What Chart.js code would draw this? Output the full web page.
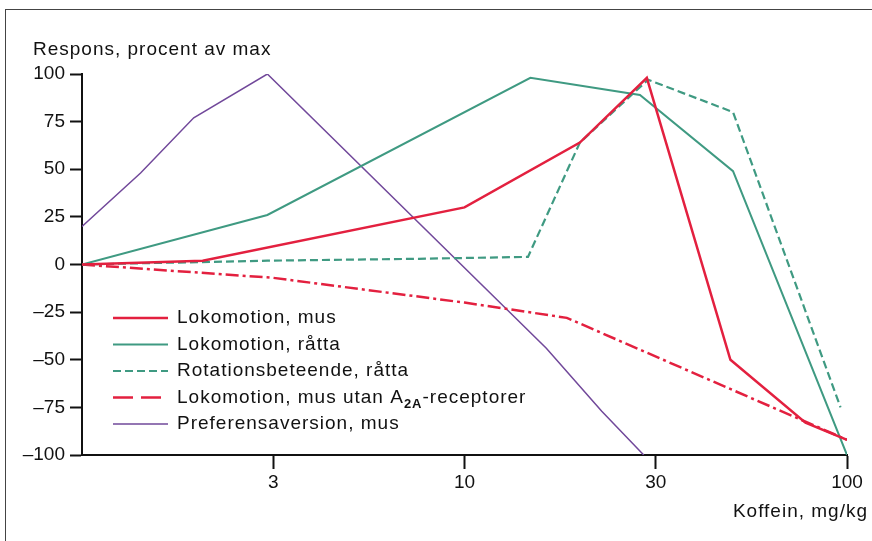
<!DOCTYPE html>
<html>
<head>
<meta charset="utf-8">
<script src="https://cdn.jsdelivr.net/npm/chart.js@4.4.1/dist/chart.umd.min.js"></script>
<style>
html,body{margin:0;padding:0;background:#fff;overflow:hidden}
#wrap{position:relative;width:872px;height:541px}
#frame{position:absolute;left:5px;top:9px;width:900px;height:600px;border:1.5px solid #444;pointer-events:none}
</style>
</head>
<body>
<div id="wrap"><canvas id="c" width="872" height="541"></canvas><div id="frame"></div></div>
<script>
// ---- data (dose in mg/kg, response in % of max) ----
const xTickDoses = [1, 3, 10, 30, 100];          // axis breakpoints (evenly spaced on the axis)
const xTickLabels = ['', '3', '10', '30', '100'];
const yTicks = [-100, -75, -50, -25, 0, 25, 50, 75, 100];

const lokMusDose  = [1, 2, 10, 19.4, 28.5, 48, 77, 100];
const lokMusResp  = [0, 2, 30, 64, 98, -50, -83, -92];

const lokRattaDose = [1, 2.9, 14.6, 27.4, 48.8, 100];
const lokRattaResp = [0, 26, 98, 89, 49, -100];

const rotDose = [1, 2.9, 7.5, 14.4, 19.4, 28.7, 48.8, 96];
const rotResp = [0, 2, 3, 4, 64, 97, 80, -75];

const lokA2ADose = [1, 3, 10, 18, 100];
const lokA2AResp = [0, -7, -20, -28, -92];

const prefDose = [1, 1.4, 1.9, 2.9, 16, 22, 28];
const prefResp = [20, 48, 77, 100, -44, -77, -100];

const seriesLabels = [
  'Lokomotion, mus',
  'Lokomotion, råtta',
  'Rotationsbeteende, råtta',
  'Lokomotion, mus utan A_{2A}-receptorer',
  'Preferensaversion, mus'
];
const yTitle = 'Respons, procent av max';
const xTitle = 'Koffein, mg/kg';

// ---- helpers ----
function dosePos(d) {
  for (let k = 0; k < xTickDoses.length - 1; k++) {
    if (d <= xTickDoses[k + 1] || k === xTickDoses.length - 2) {
      return k + Math.log(d / xTickDoses[k]) / Math.log(xTickDoses[k + 1] / xTickDoses[k]);
    }
  }
}
function pts(doses, resp) { return doses.map((d, i) => ({ x: dosePos(d), y: resp[i] })); }

const RED = '#e3203f', GREEN = '#3f9a82', PURPLE = '#71489a';
const FONT = '"Liberation Sans", Arial, sans-serif';

const datasets = [
  { label: seriesLabels[0], data: pts(lokMusDose, lokMusResp), borderColor: RED, borderWidth: 2.5 },
  { label: seriesLabels[1], data: pts(lokRattaDose, lokRattaResp), borderColor: GREEN, borderWidth: 2 },
  { label: seriesLabels[2], data: pts(rotDose, rotResp), borderColor: GREEN, borderWidth: 2.2, borderDash: [8, 4] },
  { label: seriesLabels[3], data: pts(lokA2ADose, lokA2AResp), borderColor: RED, borderWidth: 2.5, borderDash: [13, 4, 3, 4], legendDash: [20, 8] },
  { label: seriesLabels[4], data: pts(prefDose, prefResp), borderColor: PURPLE, borderWidth: 1.5 }
];

const textPlugin = {
  id: 'texts',
  afterDraw(chart) {
    const ctx = chart.ctx;
    ctx.save();
    try { ctx.letterSpacing = '1px'; } catch (e) {}
    ctx.fillStyle = '#111';
    ctx.font = '19px ' + FONT;
    ctx.textBaseline = 'alphabetic';
    ctx.textAlign = 'left';
    ctx.fillText(yTitle, 33, 55);
    ctx.textAlign = 'right';
    ctx.fillText(xTitle, 868, 517);

    // legend
    ctx.textAlign = 'left';
    chart.data.datasets.forEach((ds, i) => {
      const y = 318 + i * 26.5;
      ctx.save();
      ctx.strokeStyle = ds.borderColor;
      ctx.lineWidth = ds.borderWidth;
      ctx.setLineDash(ds.legendDash || ds.borderDash || []);
      ctx.beginPath();
      ctx.moveTo(113, y);
      ctx.lineTo(168, y);
      ctx.stroke();
      ctx.restore();
      // text with optional subscript _{...}
      let x = 177;
      const parts = ds.label.split(/(_\{[^}]*\})/);
      ctx.textBaseline = 'middle';
      parts.forEach(p => {
        if (!p) return;
        if (p.startsWith('_{')) {
          const s = p.slice(2, -1);
          ctx.font = 'bold 13px ' + FONT;
          ctx.fillText(s, x, y + 7);
          x += ctx.measureText(s).width;
        } else {
          ctx.font = '19px ' + FONT;
          ctx.fillText(p, x, y);
          x += ctx.measureText(p).width;
        }
      });
    });
    ctx.restore();
  }
};

new Chart(document.getElementById('c'), {
  type: 'line',
  data: { datasets },
  options: {
    responsive: false,
    animation: false,
    devicePixelRatio: 1,
    layout: { padding: { left: 0, top: 74, right: 25, bottom: 0 } },
    plugins: { legend: { display: false }, tooltip: { enabled: false } },
    elements: { point: { radius: 0 }, line: { tension: 0, fill: false } },
    scales: {
      x: {
        type: 'linear', min: 0, max: 4,
        afterBuildTicks: s => { s.ticks = xTickDoses.slice(1).map((d, i) => ({ value: i + 1 })); },
        afterFit: s => { s.height = 86; },
        ticks: { callback: v => xTickLabels[v], font: { family: FONT, size: 19 }, color: '#111', padding: 2, maxRotation: 0, autoSkip: false },
        grid: { drawOnChartArea: false, drawTicks: true, tickLength: 14, tickColor: '#111', tickWidth: 2 },
        border: { display: true, color: '#111', width: 2 }
      },
      y: {
        type: 'linear', min: -100, max: 100,
        afterBuildTicks: s => { s.ticks = yTicks.map(v => ({ value: v })); },
        afterFit: s => { s.width = 82; },
        ticks: { callback: v => (v < 0 ? '\u2013' + Math.abs(v) : String(v)), font: { family: FONT, size: 19 }, color: '#111', padding: 5, autoSkip: false },
        grid: { drawOnChartArea: false, drawTicks: true, tickLength: 12, tickColor: '#111', tickWidth: 2 },
        border: { display: true, color: '#111', width: 2 }
      }
    }
  },
  plugins: [textPlugin]
});
</script>
</body>
</html>
